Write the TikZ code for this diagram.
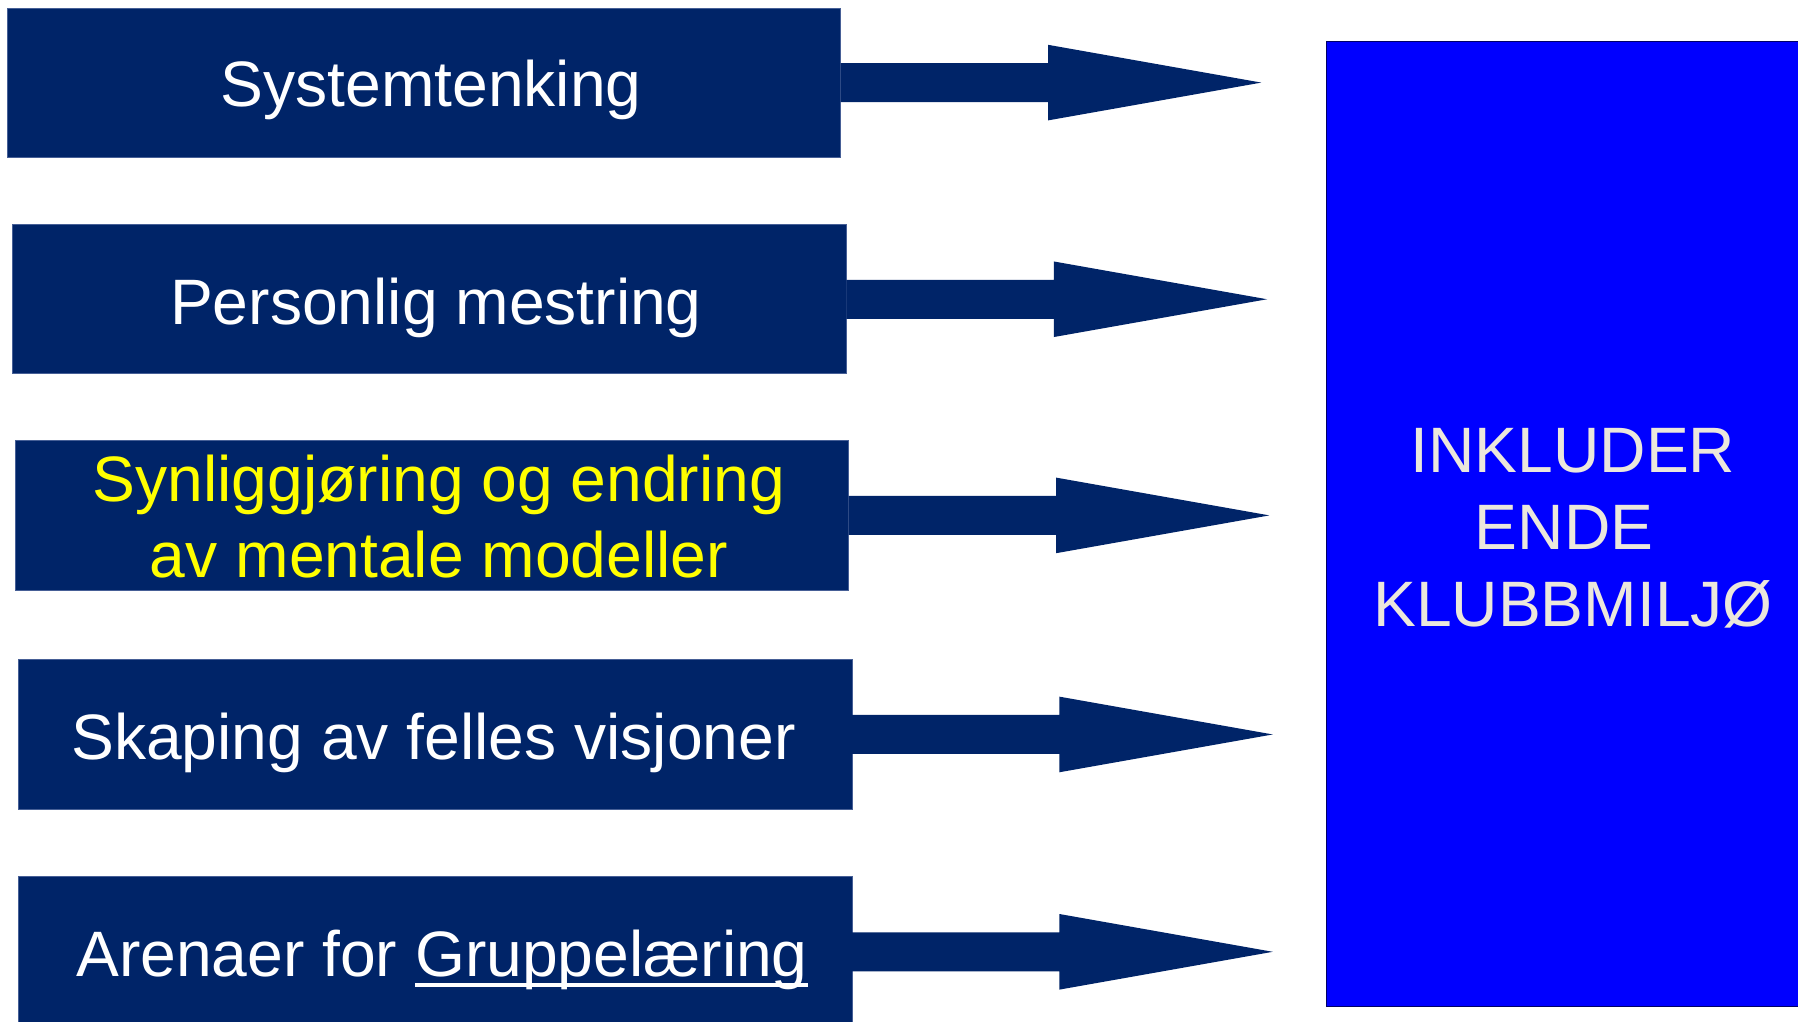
\documentclass[tikz,border=0pt]{standalone}
\usepackage{fontspec}
\setmainfont{Liberation Sans}
\usetikzlibrary{calc}
\definecolor{navy}{RGB}{0,36,104}
\definecolor{navyedge}{RGB}{70,95,150}
\definecolor{bigblue}{RGB}{0,0,255}
\definecolor{beige}{RGB}{235,231,220}
\definecolor{yel}{RGB}{255,255,0}
\newcommand\myul[1]{\setbox0\hbox{#1}\rlap{\rule[-0.165em]{\wd0}{0.05em}}\box0}
\newcommand\blockarrow[2]{%
  \fill[navy] ($(#1.east)+(0,-19.5)$) -- ++(207.5,0) -- ++(0,-18.3)
    -- ($(#1.east)+(420.8,0)$) coordinate (#2)
    -- ($(#1.east)+(207.5,37.8)$) -- ++(0,-18.3)
    -- ($(#1.east)+(0,19.5)$) -- cycle;}
\begin{document}
\begin{tikzpicture}[x=0.5pt,y=-0.5pt,
  leftbox/.style={rectangle, fill=navy, draw=navyedge, line width=0.4pt,
    inner sep=0pt, outer sep=0pt, minimum width=416.8pt},
  lbl/.style={anchor=base, inner sep=0pt, font=\fontsize{32.1}{38}\selectfont, text=white},
  biglbl/.style={lbl, text=beige}]
\useasboundingbox (0,0) rectangle (1798,1022);
\clip (0,0) rectangle (1798,1022);
\fill[white] (0,0) rectangle (1798,1022);
% target box
\node[rectangle, fill=bigblue, draw=blue!40!black, line width=0.6pt, inner sep=0pt,
  minimum width=237pt, minimum height=482.75pt] (big) at (1563.5,524.05) {};
% source boxes
\node[leftbox, minimum height=74.55pt] (b1) at (423.7,82.6) {};
\node[leftbox, minimum height=74.55pt] (b2) at (429.45,299.25) {};
\node[leftbox, minimum height=75.1pt] (b3) at (431.75,515.4) {};
\node[leftbox, minimum height=75.15pt] (b4) at (435.15,734.45) {};
\node[leftbox, minimum height=75.8pt] (b5) at (435.15,951.8) {};
% texts
\node[lbl] (t1) at (431,107) {Systemtenking};
\node[lbl] (t2) at (436,324) {Personlig mestring};
\node[lbl, text=yel] (t3a) at (439,501) {Synliggjøring og endring};
\node[lbl, text=yel] (t3b) at (439,577) {av mentale modeller};
\node[lbl] (t4) at (433.5,759) {Skaping av felles visjoner};
\node[lbl] (t5) at (442,976) {Arenaer for \myul{Gruppelæring}};
\node[biglbl] (g1) at (1573,472) {INKLUDER};
\node[biglbl] (g2) at (1573,549) {ENDE\kern0.278em};
\node[biglbl] (g3) at (1573,626) {KLUBBMILJØ};
% block arrows
\blockarrow{b1}{tip1}
\blockarrow{b2}{tip2}
\blockarrow{b3}{tip3}
\blockarrow{b4}{tip4}
\blockarrow{b5}{tip5}
\end{tikzpicture}
\end{document}
